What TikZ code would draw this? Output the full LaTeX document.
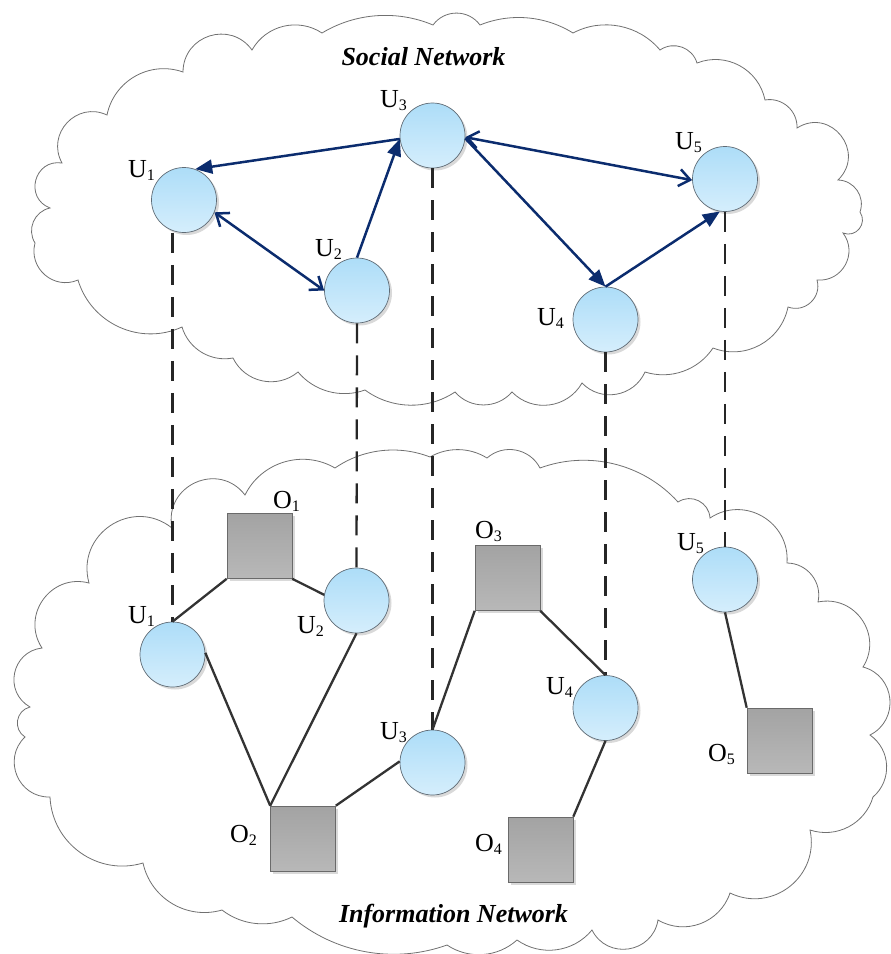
\documentclass[tikz,border=0pt]{standalone}
\usepackage{fontspec}
\setmainfont{Liberation Serif}
\usetikzlibrary{arrows.meta,shadows}

\definecolor{navy}{HTML}{0B2C6E}
\definecolor{circtop}{HTML}{ADDDF8}
\definecolor{circbot}{HTML}{D5EEFC}
\definecolor{circline}{HTML}{5F6B75}
\definecolor{boxtop}{HTML}{A3A3A3}
\definecolor{boxbot}{HTML}{B8B8B8}
\definecolor{boxline}{HTML}{6A6A6A}
\definecolor{cloudline}{HTML}{707070}
\definecolor{edgegray}{HTML}{333333}

% letter with a lowered index
\newcommand\idx[2]{#1\raisebox{-3.5pt}{\fontsize{16}{16}\selectfont #2}}

\tikzset{
  % circular arc between two cloud cusps, bulging to the left of travel
  bump/.code={%
    \pgfmathsetmacro\bumploose{(4/3)*tan(#1/2)/(2*sin(#1))/0.3915}%
    \pgfkeysalso{/tikz/bend left=#1,/tikz/looseness=\bumploose}%
  },
  cloudedge/.style={draw=cloudline, line width=0.8pt},
  user/.style={circle, draw=circline, line width=0.7pt,
    top color=circtop, bottom color=circbot,
    minimum size=65pt, inner sep=0pt,
    drop shadow={shadow xshift=2.5pt, shadow yshift=-2.5pt, opacity=0.3, fill=black!50}},
  item/.style={rectangle, draw=boxline, line width=0.6pt,
    top color=boxtop, bottom color=boxbot,
    minimum width=65pt, minimum height=65pt, inner sep=0pt,
    drop shadow={shadow xshift=2.5pt, shadow yshift=-2.5pt, opacity=0.3, fill=black!50}},
  lbl/.style={inner sep=0pt, anchor=base west, font=\fontsize{26}{28}\selectfont},
  netname/.style={inner sep=0pt, anchor=base, font=\fontsize{26}{30}\selectfont\bfseries\itshape},
  tie/.style={draw=black!85, line width=2.3pt, dash pattern=on 20pt off 12pt},
  link/.style={draw=edgegray, line width=2.3pt},
  rel/.style={draw=navy, line width=2.5pt},
  one/.style={rel, -{Triangle[length=17pt,width=14pt]}},
  two/.style={rel, {Straight Barb[length=11pt,width=17pt]}-{Straight Barb[length=11pt,width=17pt]}}
}

\begin{document}
\begin{tikzpicture}[x=1pt,y=-1pt]
\useasboundingbox (0,0) rectangle (891,954);

% upper cloud
\draw[cloudedge] (35,243) to[bump=55] (50,208) to[bump=84] (62,163) to[bump=72] (107,115)
  to[bump=49] (183,72) to[bump=72] (252,50) to[bump=47] (322,33) to[bump=27] (433,25)
  to[bump=54] (480,25) to[bump=27] (573,33) to[bump=39] (660,50) to[bump=54] (697,63)
  to[bump=50] (765,100) to[bump=51] (797,128) to[bump=84] (838,180) to[bump=54] (860,212)
  to[bump=73] (843,233) to[bump=66] (817,280) to[bump=63] (788,307) to[bump=50] (713,348)
  to[bump=37] (645,372) to[bump=56] (582,383) to[bump=53] (512,392) to[bump=49] (455,392)
  to[bump=35] (365,390) to[bump=35] (298,372) to[bump=52] (233,358) to[bump=42] (182,327)
  to[bump=49] (78,280) to[bump=64] (35,243);

% lower cloud
\draw[cloudedge] (172,528) to[bump=77] (245,495) to[bump=47] (335,468) to[bump=28] (430,457)
  to[bump=31] (487,458) to[bump=52] (540,468) to[bump=34] (678,502) to[bump=60] (710,518)
  to[bump=64] (787,563) to[bump=51] (818,602) to[bump=67] (863,667) to[bump=69] (870,735)
  to[bump=52] (873,797) to[bump=46] (810,830) to[bump=64] (730,893) to[bump=51] (658,920)
  to[bump=72] (592,930) to[bump=43] (517,940) to[bump=38] (447,945) to[bump=30] (292,917)
  to[bump=32] (222,910) to[bump=47] (143,863) to[bump=52] (50,797) to[bump=69] (25,737)
  to[bump=67] (30,707) to[bump=72] (42,648) to[bump=69] (89,583) to[bump=72] (172,528);

% network titles
\node[netname] (socialname) at (423.5,65) {Social Network};
\node[netname] (infoname) at (453.5,922) {Information Network};

% social network users
\node[user] (U1t) at (184,200) {};
\node[user] (U2t) at (357,290.5) {};
\node[user] (U3t) at (432.5,135.5) {};
\node[user] (U4t) at (605.5,319.5) {};
\node[user] (U5t) at (725,179) {};

% information network users and objects
\node[user] (U1b) at (172.5,654.5) {};
\node[user] (U2b) at (356.5,600.5) {};
\node[user] (U3b) at (432.5,762.5) {};
\node[user] (U4b) at (605.5,708) {};
\node[user] (U5b) at (725,579.5) {};
\node[item] (O1) at (259.5,546) {};
\node[item] (O2) at (303,838.5) {};
\node[item] (O3) at (507.5,578) {};
\node[item] (O4) at (540.5,849.5) {};
\node[item] (O5) at (779.5,740.5) {};

% labels
\node[lbl] (lU1t) at (128,177) {\idx{U}{1}};
\node[lbl] (lU2t) at (315,256) {\idx{U}{2}};
\node[lbl] (lU3t) at (380,107) {\idx{U}{3}};
\node[lbl] (lU4t) at (537,325) {\idx{U}{4}};
\node[lbl] (lU5t) at (675,149) {\idx{U}{5}};
\node[lbl] (lU1b) at (128,623) {\idx{U}{1}};
\node[lbl] (lU2b) at (297,633) {\idx{U}{2}};
\node[lbl] (lU3b) at (380,739) {\idx{U}{3}};
\node[lbl] (lU4b) at (546,694) {\idx{U}{4}};
\node[lbl] (lU5b) at (677,550) {\idx{U}{5}};
\node[lbl] (lO1) at (273,508) {\idx{O}{1}};
\node[lbl] (lO2) at (230,842) {\idx{O}{2}};
\node[lbl] (lO3) at (475,538) {\idx{O}{3}};
\node[lbl] (lO4) at (475,851) {\idx{O}{4}};
\node[lbl] (lO5) at (708,761) {\idx{O}{5}};

% the same user in both networks
\draw[tie] (U1b.north |- U1t.south) -- (U1b.north);
\draw[tie] (U2t.south) -- (U2b.north);
\draw[tie] (U3t.south) -- (U3b.north);
\draw[tie] (U4t.south) -- (U4b.north);
\draw[tie] (U5t.south) -- (U5b.north);

% user-object links
\draw[link] (O1.south west) -- (U1b.north);
\draw[link] (O1.south east) -- (U2b.170);
\draw[link] (U1b.3) -- (O2.north west);
\draw[link] (U2b.south) -- (O2.north west);
\draw[link] (O2.north east) -- (U3b.178);
\draw[link] (U3b.north) -- (O3.south west);
\draw[link] (O3.south east) -- (U4b.north);
\draw[link] (U4b.south) -- (O4.north east);
\draw[link] (U5b.south) -- (O5.north west);

% social relations
\draw[one] (U3t.186) -- (U1t.70);
\draw[two] (U1t.338) -- (U2t.180);
\draw[one] (U2t.90) -- (U3t.186);
\draw[two] (U3t.357) -- (U5t.182);
\draw[one] (U3t.355) -- (U4t.90);
\draw[one] (U4t.90) -- (U5t.261);
\end{tikzpicture}
\end{document}
